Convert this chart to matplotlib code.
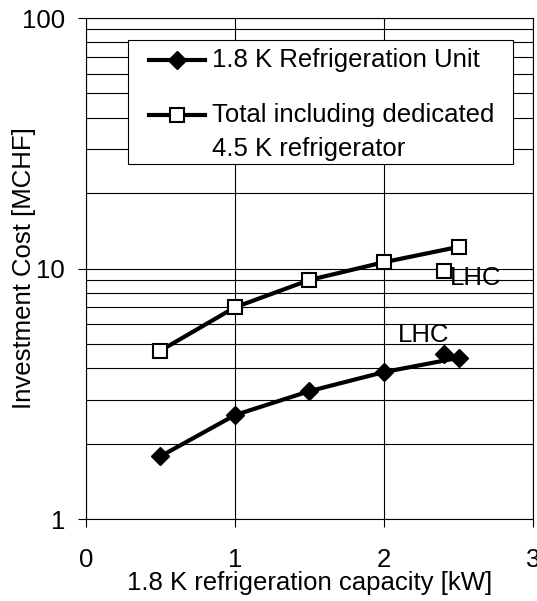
import matplotlib.pyplot as plt
from matplotlib.lines import Line2D
from matplotlib.patches import Rectangle
from matplotlib.ticker import LogLocator, NullFormatter, FixedLocator

plt.rcParams['font.family'] = ['Liberation Sans', 'DejaVu Sans']
FS = 18.5

# capacity in kW
capacity = [0.5, 1.0, 1.5, 2.0, 2.5]
unit_cost = [1.78, 2.6, 3.24, 3.86, 4.4]      # 1.8 K refrigeration unit
total_cost = [4.7, 7.0, 9.0, 10.6, 12.2]      # incl. dedicated 4.5 K refrigerator

# LHC reference points
lhc_capacity = [2.4]
lhc_unit = [4.55]
lhc_total = [9.8]

fig = plt.figure(figsize=(5.37, 6.01), dpi=100)
ax = fig.add_axes([0.160, 0.1364, 0.8326, 0.8336])

diamond = dict(marker='D', ms=9, mfc='black', mec='black')
square = dict(marker='s', ms=10, mfc='white', mec='black', mew=1.5)

ax.plot(capacity, unit_cost, color='black', lw=3, **diamond)
ax.plot(capacity, total_cost, color='black', lw=3, **square)

ax.plot(lhc_capacity, lhc_unit, ls='none', **diamond)
ax.plot(lhc_capacity, lhc_total, ls='none', **square)
ax.text(lhc_capacity[0] - 0.306, lhc_unit[0] * 1.19, 'LHC', fontsize=FS,
        va='center', ha='left')
ax.text(lhc_capacity[0] + 0.043, lhc_total[0] * 0.935, 'LHC', fontsize=FS,
        va='center', ha='left')

ax.set_yscale('log')
ax.set_ylim(1, 100)
ax.set_xlim(0, 3)
ax.xaxis.set_major_locator(FixedLocator([0, 1, 2, 3]))
ax.yaxis.set_major_locator(FixedLocator([1, 10, 100]))
ax.set_yticklabels(['1', '10', '100'])
ax.yaxis.set_minor_locator(LogLocator(base=10, subs=range(2, 10)))
ax.yaxis.set_minor_formatter(NullFormatter())
ax.tick_params(axis='both', which='major', labelsize=FS, direction='out',
               length=6, color='black')
ax.tick_params(axis='y', which='minor', length=0)
ax.tick_params(axis='x', pad=15)
ax.tick_params(axis='y', pad=9)
ax.grid(True, which='both', color='black', lw=0.8)
for s in ax.spines.values():
    s.set_color('black')
    s.set_linewidth(0.8)

ax.set_xlabel('1.8 K refrigeration capacity [kW]', fontsize=FS, labelpad=-1)
ax.set_ylabel('Investment Cost [MCHF]', fontsize=FS)
ax.yaxis.set_label_coords(-0.112, 0.5)

# legend box, drawn by hand so the second handle sits on the first text line
ax.add_patch(Rectangle((0.094, 0.709), 0.861, 0.247, transform=ax.transAxes,
                       facecolor='white', edgecolor='black', lw=0.8, zorder=5))
for y, style, lines in [(0.916, diamond, ['1.8 K Refrigeration Unit']),
                        (0.806, square, ['Total including dedicated',
                                         '4.5 K refrigerator'])]:
    ax.add_line(Line2D([0.141, 0.266], [y, y], transform=ax.transAxes,
                       color='black', lw=3, zorder=6))
    ax.add_line(Line2D([0.203], [y], transform=ax.transAxes, ls='none',
                       zorder=7, **style))
    for i, txt in enumerate(lines):
        ax.text(0.282, y - i * 0.068, txt, transform=ax.transAxes,
                fontsize=FS, va='center', ha='left', zorder=8)

fig.savefig('out.png', dpi=100)
